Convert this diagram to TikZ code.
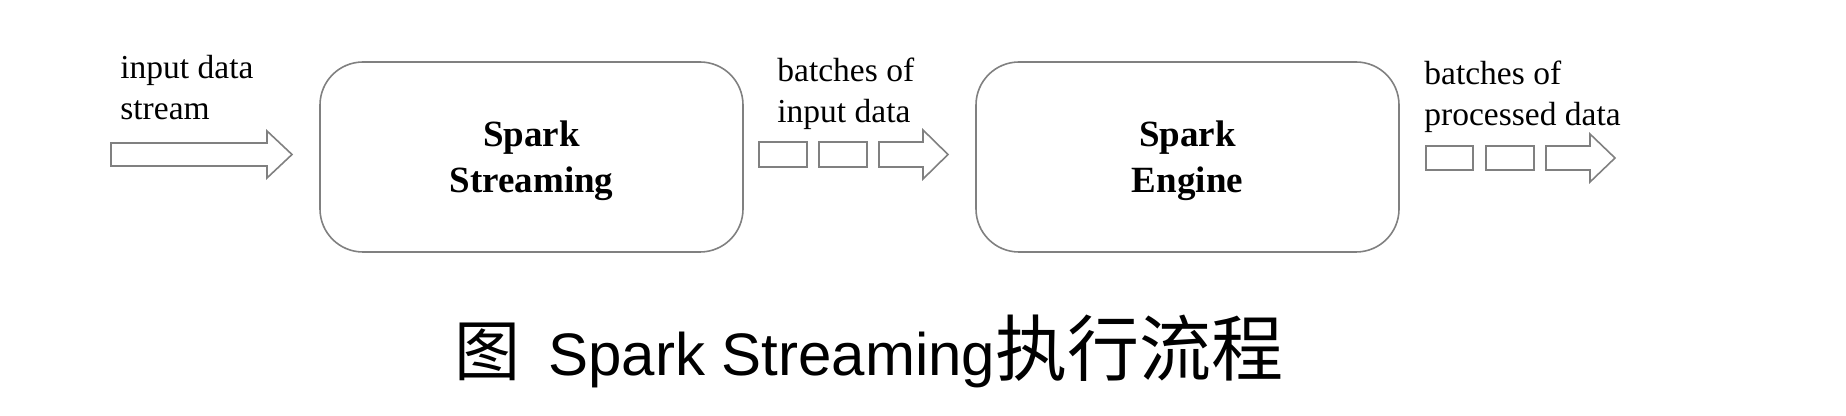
\documentclass[tikz,border=0pt]{standalone}
\usepackage{fontspec}
\setmainfont{Liberation Serif}
\newfontfamily\capsans{Liberation Sans}
\newfontfamily\cjk{Noto Sans CJK SC}
\definecolor{linegray}{RGB}{128,128,128}
\begin{document}
\begin{tikzpicture}[x=0.5pt,y=-0.5pt,
  outline/.style={draw=linegray,line width=0.8pt,line join=miter},
  procbox/.style={draw=linegray,line width=0.8pt,rounded corners=21.5pt},
  lbl/.style={font=\fontsize{16.75}{20.5}\selectfont,align=left,inner sep=0pt,anchor=base west},
  boxtext/.style={font=\bfseries\fontsize{18.5}{23}\selectfont,align=center,inner sep=0pt}]
\useasboundingbox (0,0) rectangle (1846,416);
% boxes
\draw[procbox] (320,62) rectangle (743,252);
\draw[procbox] (976,62) rectangle (1399,252);
\node[boxtext,anchor=base] (t1) at (531.5,193) {Spark\\Streaming};
\node[boxtext,anchor=base] (t2) at (1187.5,193) {Spark\\Engine};
% arrows
\newcommand{\blockarr}[6]{% shaft-left, head-base, tip, shaft-top, shaft-bottom, head offset
  \draw[outline] (#1,#4) -- (#2,#4) -- (#2,{#4-#6}) -- (#3,{(#4+#5)/2}) -- (#2,{#5+#6}) -- (#2,#5) -- (#1,#5) -- cycle;}
\blockarr{111}{267}{292}{143}{166}{12}
\draw[outline] (759,142) rectangle (807,167);
\draw[outline] (819,142) rectangle (867,167);
\blockarr{879}{923}{948}{142}{167}{12}
\draw[outline] (1426,146) rectangle (1473,170);
\draw[outline] (1486,146) rectangle (1534,170);
\blockarr{1546}{1590}{1615}{146}{170}{12}
% labels
\node[lbl] (l1) at (120,120) {input data\\stream};
\node[lbl] (l2) at (777,123) {batches of\\input data};
\node[lbl] (l3) at (1424,126) {batches of\\processed data};
% caption
\node[inner sep=0pt,anchor=base west] (cap) at (454,376) {{\cjk\fontsize{33}{33}\selectfont 图}\hspace{14pt}{\capsans\fontsize{30}{30}\selectfont Spark Streaming}{\cjk\fontsize{36}{36}\selectfont 执行流程}};
\end{tikzpicture}
\end{document}
